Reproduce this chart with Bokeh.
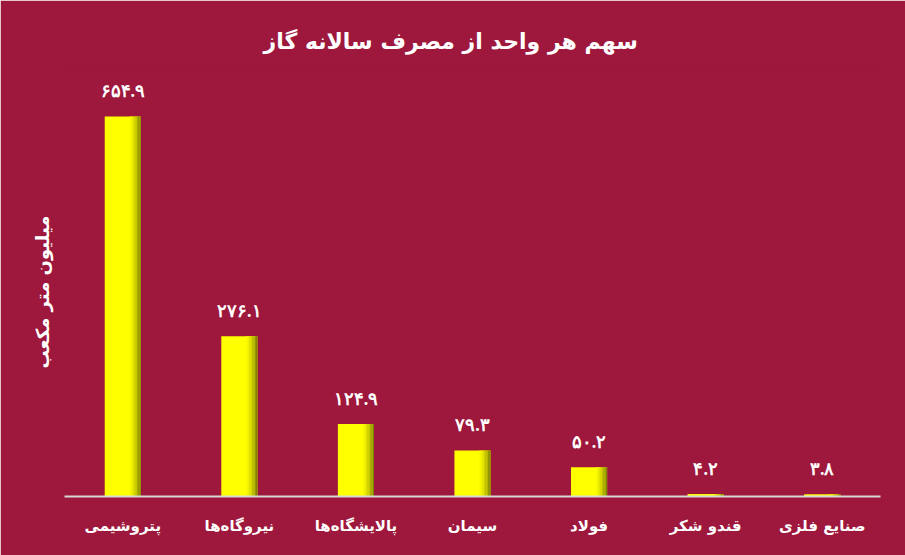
from bokeh.plotting import figure
from bokeh.models import ColumnDataSource, FactorRange, Range1d, LabelSet, Title
from bokeh.transform import dodge
from bokeh.embed import file_html
from bokeh.resources import INLINE

categories = ["پتروشیمی", "نیروگاه‌ها", "پالایشگاه‌ها", "سیمان", "فولاد", "قندو شکر", "صنایع فلزی"]
values = [654.9, 276.1, 124.9, 79.3, 50.2, 4.2, 3.8]
title_text = "سهم هر واحد از مصرف سالانه گاز"
y_label_text = "میلیون متر مکعب"

def fa_digits(s):
    return s.translate(str.maketrans("0123456789", "۰۱۲۳۴۵۶۷۸۹"))

labels = [fa_digits(f"{v:.1f}") for v in values]

BG = "#9E173C"
FONT = "DejaVu Sans"

src = ColumnDataSource(dict(cat=categories, val=values, lab=labels))

p = figure(width=905, height=555, x_range=FactorRange(*categories),
           y_range=Range1d(0, 734), output_backend="svg", toolbar_location=None,
           min_border_left=64, min_border_right=25, min_border_top=70, min_border_bottom=59)
p.background_fill_color = BG
p.border_fill_color = BG
p.outline_line_color = BG
p.outline_line_width = 2

bw = 0.31
p.vbar(x="cat", top="val", width=bw, source=src, fill_color="#FFFF00", line_color=None)

# right-side shading of each bar
shade = ["#F8F800", "#EEEE00", "#E2E200", "#D2D200", "#C0C000", "#ACAC00", "#969600", "#808000"]
sw = 0.012
for i, c in enumerate(shade):
    off = bw / 2 - sw * (len(shade) - i) + sw / 2
    p.vbar(x=dodge("cat", off, range=p.x_range), top="val", width=sw, source=src,
           fill_color=c, line_color=None)

p.add_layout(LabelSet(x="cat", y="val", text="lab", source=src, y_offset=15,
                      text_align="center", text_baseline="bottom",
                      text_color="white", text_font=FONT, text_font_style="bold",
                      text_font_size="18px"))

p.xgrid.grid_line_color = None
p.ygrid.grid_line_color = None
p.yaxis.visible = False
ax = p.xaxis[0]
ax.axis_line_color = "#D9D9D9"
ax.axis_line_width = 2
ax.major_tick_line_color = None
ax.minor_tick_line_color = None
ax.major_label_text_color = "white"
ax.major_label_text_font = FONT
ax.major_label_text_font_style = "bold"
ax.major_label_text_font_size = "15px"
ax.major_label_standoff = 14

p.add_layout(Title(text=title_text, align="left", text_color="white",
                   text_font=FONT, text_font_style="bold", text_font_size="22px",
                   standoff=33, offset=199), "above")
p.add_layout(Title(text=y_label_text, align="left", text_color="white",
                   text_font=FONT, text_font_style="bold", text_font_size="18px",
                   standoff=23, offset=128), "left")

open("out.html", "w").write(file_html(p, INLINE))
